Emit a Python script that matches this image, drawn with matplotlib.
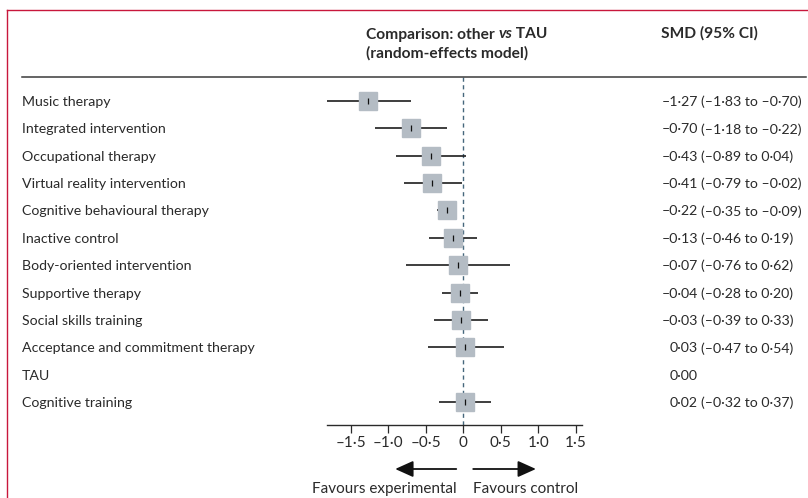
import matplotlib
matplotlib.use("Agg")
import matplotlib.pyplot as plt
from matplotlib.lines import Line2D
from matplotlib.transforms import blended_transform_factory

# ---------------- data ----------------
labels = ["Music therapy", "Integrated intervention", "Occupational therapy",
          "Virtual reality intervention", "Cognitive behavioural therapy",
          "Inactive control", "Body-oriented intervention", "Supportive therapy",
          "Social skills training", "Acceptance and commitment therapy",
          "TAU", "Cognitive training"]
smd = [-1.27, -0.70, -0.43, -0.41, -0.22, -0.13, -0.07, -0.04, -0.03, 0.03, 0.00, 0.02]
ci_low = [-1.83, -1.18, -0.89, -0.79, -0.35, -0.46, -0.76, -0.28, -0.39, -0.47, None, -0.32]
ci_high = [-0.70, -0.22, 0.04, -0.02, -0.09, 0.19, 0.62, 0.20, 0.33, 0.54, None, 0.37]
xticks = [-1.5, -1.0, -0.5, 0, 0.5, 1.0, 1.5]
xtick_labels = ["–1·5", "–1·0", "–0·5", "0", "0·5", "1·0", "1·5"]

plt.rcParams['font.family'] = ['Lato', 'DejaVu Sans']
TXT = '#2a2a2a'
FS = 10.2
FS_H = 11.2
FS_T = 11

W, H = 808, 498
fig = plt.figure(figsize=(W / 100, H / 100), dpi=100)
def fx(px): return px / W
def fy(py): return 1 - py / H

# forest-plot axes
ax = fig.add_axes([fx(326.7), fy(425), (582.5 - 326.7) / W, (425 - 77) / H])
ax.set_xlim(-1.82, 1.59)
ax.set_ylim(11.84, -0.877)
for s in ['top', 'right', 'left']:
    ax.spines[s].set_visible(False)
ax.spines['bottom'].set_color(TXT)
ax.spines['bottom'].set_linewidth(1.0)
ax.set_yticks([])
ax.set_xticks(xticks)
ax.set_xticklabels(xtick_labels, fontsize=FS_T, color=TXT)
ax.tick_params(axis='x', direction='out', length=5.5, width=0.9, color=TXT, pad=2.5)
ax.patch.set_alpha(0)

ax.axvline(0, color='#46677c', lw=1.0, ls=(0, (3, 2.5)), zorder=1)

for i, (m, lo, hi) in enumerate(zip(smd, ci_low, ci_high)):
    if lo is None:
        continue
    ax.hlines(i, lo, hi, color='#1e1e1e', lw=1.2, zorder=2)
    ax.plot(m, i, 's', ms=13, color='#b4bcc4', mec='#b4bcc4', zorder=3)
    ax.plot(m, i, marker='|', ms=4, mew=0.9, color='#111111', zorder=4)

# row labels and values
lab_tr = blended_transform_factory(fig.transFigure, ax.transData)
def fmt(v):
    s = f"{abs(v):.2f}".replace('.', '·')
    return ("–" + s) if v < 0 else s
for i, lab in enumerate(labels):
    ax.text(fx(22), i, lab, transform=lab_tr, ha='left', va='center_baseline',
            fontsize=FS, color=TXT)
    ax.text(fx(698), i, fmt(smd[i]), transform=lab_tr, ha='right',
            va='center_baseline', fontsize=FS, color=TXT)
    if ci_low[i] is not None:
        ax.text(fx(701), i, f"({fmt(ci_low[i])} to {fmt(ci_high[i])})",
                transform=lab_tr, ha='left', va='center_baseline',
                fontsize=FS, color=TXT)

# headers
fig.canvas.draw()
r = fig.canvas.get_renderer()
t1 = fig.text(fx(366), fy(33), "Comparison: other ", ha='left', va='center_baseline',
              fontsize=FS_H, fontweight='bold', color=TXT)
bb = t1.get_window_extent(r)
t2 = fig.text(bb.x1 / W, fy(33), "vs", ha='left', va='center_baseline',
              fontsize=FS_H, fontweight='bold', fontstyle='italic', color=TXT)
bb2 = t2.get_window_extent(r)
fig.text(bb2.x1 / W, fy(33), " TAU", ha='left', va='center_baseline',
         fontsize=FS_H, fontweight='bold', color=TXT)
fig.text(fx(366), fy(52), "(random-effects model)", ha='left', va='center_baseline',
         fontsize=FS_H, fontweight='bold', color=TXT)
fig.text(fx(661), fy(32), "SMD (95% CI)", ha='left', va='center_baseline',
         fontsize=FS_H, fontweight='bold', color=TXT)

# header rule
fig.add_artist(Line2D([fx(22), fx(806)], [fy(77), fy(77)], color='#3a3a3a', lw=1.1))

# frame (red left and top border)
red = '#c8173c'
fig.add_artist(Line2D([fx(6.5), fx(6.5)], [fy(10.5), 0], color=red, lw=1.0))
fig.add_artist(Line2D([fx(6.5), 1], [fy(10.5), fy(10.5)], color=red, lw=1.0))

# favours arrows
arr_tr = blended_transform_factory(ax.transData, fig.transFigure)
ay = fy(469)
style = '-|>,head_length=1.0,head_width=0.45'
ax.annotate('', xy=(-0.907, ay), xytext=(-0.093, ay), xycoords=arr_tr, textcoords=arr_tr,
            arrowprops=dict(arrowstyle=style, color='#111111', lw=1.3, shrinkA=0,
                            shrinkB=0, mutation_scale=11), annotation_clip=False)
ax.annotate('', xy=(0.969, ay), xytext=(0.133, ay), xycoords=arr_tr, textcoords=arr_tr,
            arrowprops=dict(arrowstyle=style, color='#111111', lw=1.3, shrinkA=0,
                            shrinkB=0, mutation_scale=11), annotation_clip=False)
ax.text(-0.093, fy(487), "Favours experimental", transform=arr_tr, ha='right',
        va='center_baseline', fontsize=FS_T, color=TXT)
ax.text(0.133, fy(487), "Favours control", transform=arr_tr, ha='left',
        va='center_baseline', fontsize=FS_T, color=TXT)

fig.savefig("out.png", dpi=100, facecolor='white')
